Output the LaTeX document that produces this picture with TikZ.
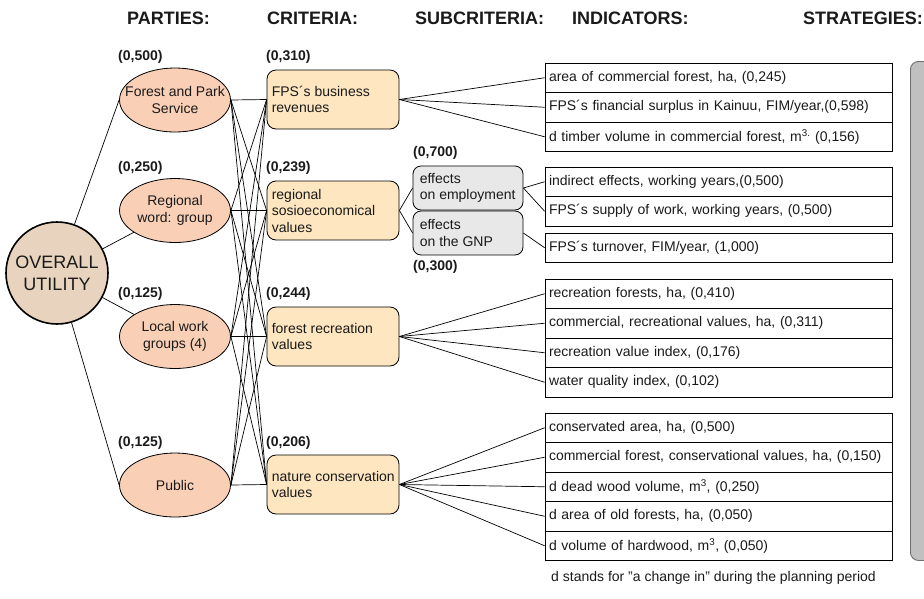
\documentclass[tikz,border=0pt]{standalone}
\usepackage{fontspec}
\setmainfont{Liberation Sans}
\usetikzlibrary{shapes.geometric}
\definecolor{utilfill}{HTML}{E8D4BE}
\definecolor{partyfill}{HTML}{F9D0B6}
\definecolor{critfill}{HTML}{FDE6C0}
\definecolor{subfill}{HTML}{E8E8E8}
\definecolor{barfill}{HTML}{C0C0C0}
\definecolor{bardraw}{HTML}{6E6E6E}
\definecolor{txt}{HTML}{1A1A1A}
\tikzset{
  head/.style={font=\fontsize{18}{20}\selectfont\bfseries, text=txt, inner sep=0pt},
  weight/.style={font=\fontsize{14}{16}\selectfont\bfseries, text=txt, inner sep=0pt, anchor=west},
  party/.style={ellipse, draw, line width=0.8pt, fill=partyfill, minimum width=111pt, minimum height=64pt, inner sep=0pt},
  partytxt/.style={font=\fontsize{14}{17}\selectfont, text=txt, align=center, inner sep=0pt},
  crit/.style={draw, line width=0.8pt, fill=critfill, rounded corners=9pt, minimum width=132pt, minimum height=59pt, inner sep=0pt},
  crittxt/.style={font=\fontsize{14}{16.5}\selectfont, text=txt, align=left, inner sep=0pt, anchor=west},
  subc/.style={draw, line width=0.8pt, fill=subfill, rounded corners=8pt, minimum width=110pt, minimum height=44pt, inner sep=0pt},
  ind/.style={draw, line width=0.8pt, fill=white, minimum width=347pt, minimum height=29.5pt, text width=339pt, inner xsep=4pt, inner ysep=0pt, align=left, font=\fontsize{14}{16}\selectfont, text=txt},
  conn/.style={line width=0.7pt, black}
}
\begin{document}
\begin{tikzpicture}[x=1pt,y=-1pt]
\useasboundingbox (0,0) rectangle (924,598);
\clip (0,0) rectangle (924,598);

% headers
\node[head, anchor=west] (hP) at (127,18) {PARTIES:};
\node[head, anchor=west] (hC) at (267,18) {CRITERIA:};
\node[head, anchor=west] (hS) at (415,18) {SUBCRITERIA:};
\node[head, anchor=west] (hI) at (572,18) {INDICATORS:};
\node[head, anchor=east] (hT) at (923,18) {STRATEGIES:};

% strategies bar
\node[draw=bardraw, line width=0.9pt, fill=barfill, rounded corners=8pt, minimum width=34pt, minimum height=499pt, inner sep=0pt, anchor=north west] (bar) at (910,61) {};

% overall utility
\node[circle, draw, line width=1.6pt, fill=utilfill, minimum size=102pt, inner sep=0pt, align=center, font=\fontsize{18}{22}\selectfont, text=txt] (ou) at (57,273) {OVERALL\\UTILITY};

% parties
\node[party] (p1) at (175,100) {};
\node[party] (p2) at (175,210.5) {};
\node[party] (p3) at (175,336.5) {};
\node[party] (p4) at (175,485) {};
\node[partytxt] (p1t) at (p1) {Forest and Park\\Service};
\node[partytxt] (p2t) at (p2) {Regional\\word: group};
\node[partytxt] (p3t) at (p3) {Local work\\groups (4)};
\node[partytxt] (p4t) at (p4) {Public};

\node[weight] (w1) at (118,57) {(0,500)};
\node[weight] (w2) at (118,168) {(0,250)};
\node[weight] (w3) at (118,294) {(0,125)};
\node[weight] (w4) at (118,443) {(0,125)};

% criteria
\node[crit] (c1) at (333,99.5) {};
\node[crit] (c2) at (333,210.5) {};
\node[crit] (c3) at (333,336.5) {};
\node[crit] (c4) at (333,484.5) {};
\node[crittxt] (c1t) at ([xshift=5pt]c1.west) {FPS´s business\\revenues};
\node[crittxt] (c2t) at ([xshift=5pt]c2.west) {regional\\sosioeconomical\\values};
\node[crittxt] (c3t) at ([xshift=5pt]c3.west) {forest recreation\\values};
\node[crittxt] (c4t) at ([xshift=5pt]c4.west) {nature conservation\\values};

\node[weight] (v1) at (266,57) {(0,310)};
\node[weight] (v2) at (266,168) {(0,239)};
\node[weight] (v3) at (266,294) {(0,244)};
\node[weight] (v4) at (266,443) {(0,206)};

% subcriteria
\node[subc] (s1) at (468,188) {};
\node[subc] (s2) at (468,233) {};
\node[crittxt] (s1t) at ([xshift=7pt]s1.west) {effects\\on employment};
\node[crittxt] (s2t) at ([xshift=7pt]s2.west) {effects\\on the GNP};
\node[weight] (u1) at (413,153) {(0,700)};
\node[weight] (u2) at (413,267) {(0,300)};

% indicators
\node[ind] (i11) at (718.5,77.75) {area of commercial forest, ha, (0,245)};
\node[ind] (i12) at (718.5,107.25) {FPS´s financial surplus in Kainuu, FIM/year,(0,598)};
\node[ind] (i13) at (718.5,136.75) {d timber volume in commercial forest, m\textsuperscript{3.} (0,156)};

\node[ind] (i21) at (718.5,181.75) {indirect effects, working years,(0,500)};
\node[ind] (i22) at (718.5,211.25) {FPS´s supply of work, working years, (0,500)};
\node[ind] (i23) at (718.5,247.75) {FPS´s turnover, FIM/year, (1,000)};

\node[ind] (i31) at (718.5,293.75) {recreation forests, ha, (0,410)};
\node[ind] (i32) at (718.5,323.25) {commercial, recreational values, ha, (0,311)};
\node[ind] (i33) at (718.5,352.75) {recreation value index, (0,176)};
\node[ind] (i34) at (718.5,382.25) {water quality index, (0,102)};

\node[ind] (i41) at (718.5,427.75) {conservated area, ha, (0,500)};
\node[ind] (i42) at (718.5,457.25) {commercial forest, conservational values, ha, (0,150)};
\node[ind] (i43) at (718.5,486.75) {d dead wood volume, m\textsuperscript{3}, (0,250)};
\node[ind] (i44) at (718.5,516.25) {d area of old forests, ha, (0,050)};
\node[ind] (i45) at (718.5,545.75) {d volume of hardwood, m\textsuperscript{3}, (0,050)};

\node[font=\fontsize{14}{16}\selectfont, text=txt, anchor=west, inner sep=0pt] (note) at (551,578) {d stands for "a change in" during the planning period};

% connectors
\draw[conn] (ou) -- (p1.west);
\draw[conn] (ou) -- (p2);
\draw[conn] (ou) -- (p3);
\draw[conn] (ou) -- (p4.west);
\foreach \p in {p1,p2,p3,p4}{
  \foreach \c in {c1,c2,c3,c4}{
    \draw[conn] (\p.east) -- (\c.west);
  }
}
\foreach \i in {i11,i12,i13}{\draw[conn] (c1.east) -- (\i.west);}
\draw[conn] (c2.east) -- (s1.west);
\draw[conn] (c2.east) -- (s2.west);
\draw[conn] (s1.east) -- (i21.west);
\draw[conn] (s1.east) -- (i22.west);
\draw[conn] (s2.east) -- (i23.west);
\foreach \i in {i31,i32,i33,i34}{\draw[conn] (c3.east) -- (\i.west);}
\foreach \i in {i41,i42,i43,i44,i45}{\draw[conn] (c4.east) -- (\i.west);}
\end{tikzpicture}
\end{document}
